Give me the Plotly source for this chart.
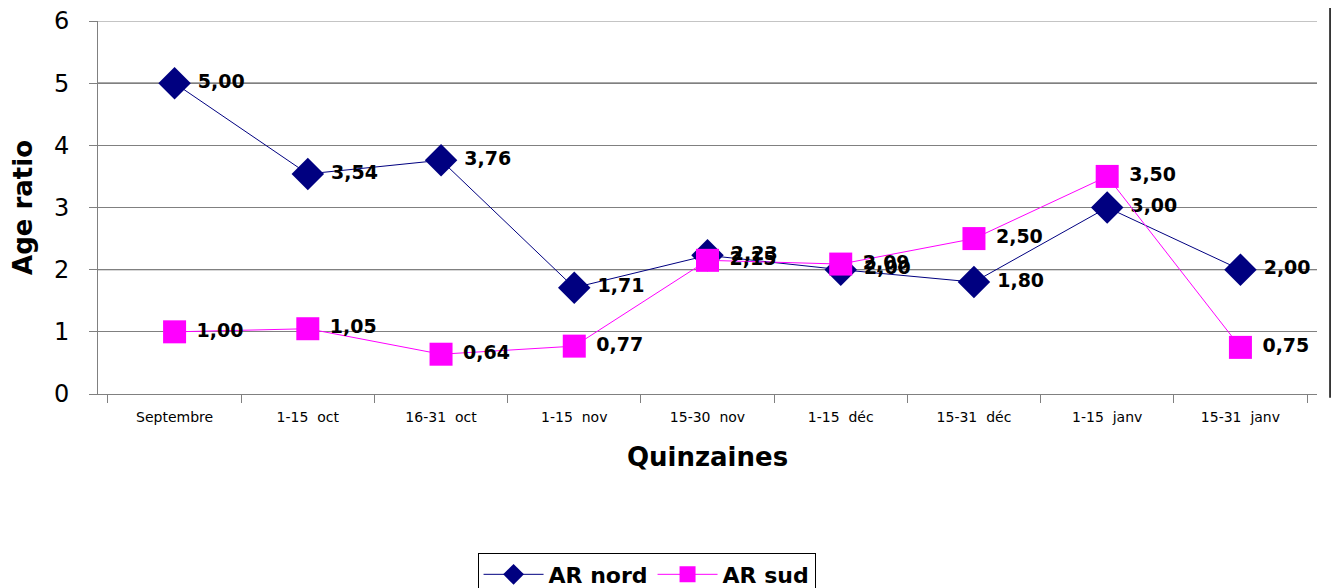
import plotly.graph_objects as go

quinzaines = ["Septembre", "1-15\u00a0 oct", "16-31\u00a0 oct", "1-15\u00a0 nov", "15-30\u00a0 nov",
              "1-15\u00a0 déc", "15-31\u00a0 déc", "1-15\u00a0 janv", "15-31\u00a0 janv"]
ar_nord = [5.00, 3.54, 3.76, 1.71, 2.23, 2.00, 1.80, 3.00, 2.00]
ar_sud = [1.00, 1.05, 0.64, 0.77, 2.15, 2.09, 2.50, 3.50, 0.75]
black_grid = [2, 5]
top_grid = 6

font = "DejaVu Sans, Verdana, sans-serif"


def lab(vals):
    return ["\u00a0" + f"{v:.2f}".replace(".", ",") for v in vals]


tr_nord = go.Scatter(
    x=quinzaines, y=ar_nord, name="AR nord",
    mode="lines+markers+text",
    line=dict(color="#000080", width=1),
    marker=dict(symbol="diamond", size=25, color="#000080"),
    text=lab(ar_nord), textposition="middle right",
    textfont=dict(family=font, size=19, color="black", weight="bold"),
)
tr_sud = go.Scatter(
    x=quinzaines, y=ar_sud, name="AR sud",
    mode="lines+markers+text",
    line=dict(color="#FF00FF", width=1),
    marker=dict(symbol="square", size=23, color="#FF00FF"),
    text=lab(ar_sud), textposition="middle right",
    textfont=dict(family=font, size=19, color="black", weight="bold"),
)

# la page ajoute 8 px de marge autour du graphique
layout = go.Layout(
    width=1340, height=588,
    margin=dict(l=90, r=31, t=13, b=202, autoexpand=False),
    paper_bgcolor="white", plot_bgcolor="white",
    font=dict(family=font, color="black"),
    showlegend=True,
    legend=dict(
        orientation="h", x=0.45, xanchor="center", y=-0.425, yanchor="top",
        bordercolor="black", borderwidth=1, bgcolor="white",
        font=dict(family=font, size=22, weight="bold"),
        itemwidth=60,
    ),
    xaxis=dict(
        title=dict(text="Quinzaines", font=dict(size=26, weight="bold"), standoff=24),
        tickfont=dict(size=14), ticklabelstandoff=10,
        showline=True, linecolor="#808080", linewidth=1,
        ticks="outside", ticklen=8, tickcolor="#808080",
        tickson="boundaries", showgrid=False, automargin=False,
    ),
    yaxis=dict(
        title=dict(text="Age ratio", font=dict(size=26, weight="bold"), standoff=20),
        range=[0, 6], dtick=1,
        tickfont=dict(size=24), ticklabelstandoff=15, ticklabeloverflow="allow",
        showline=True, linecolor="#808080", linewidth=1,
        ticks="outside", ticklen=8, tickcolor="#808080",
        gridcolor="#808080", gridwidth=1, zeroline=False, automargin=False,
    ),
)

fig = go.Figure(data=[tr_nord, tr_sud], layout=layout)

for g in black_grid:
    fig.add_shape(type="line", xref="paper", yref="y", x0=0, x1=1, y0=g, y1=g,
                  line=dict(color="black", width=1), layer="below")
fig.add_shape(type="line", xref="paper", yref="y", x0=0, x1=1, y0=top_grid, y1=top_grid,
              line=dict(color="#b0b0b0", width=1.5), layer="below")

# bordure droite de la zone du graphique
fig.add_shape(type="line", xref="paper", yref="paper", x0=1.0107, x1=1.0107, y0=-0.01, y1=1.06,
              line=dict(color="black", width=1.5))

fig.write_html("out.html")
